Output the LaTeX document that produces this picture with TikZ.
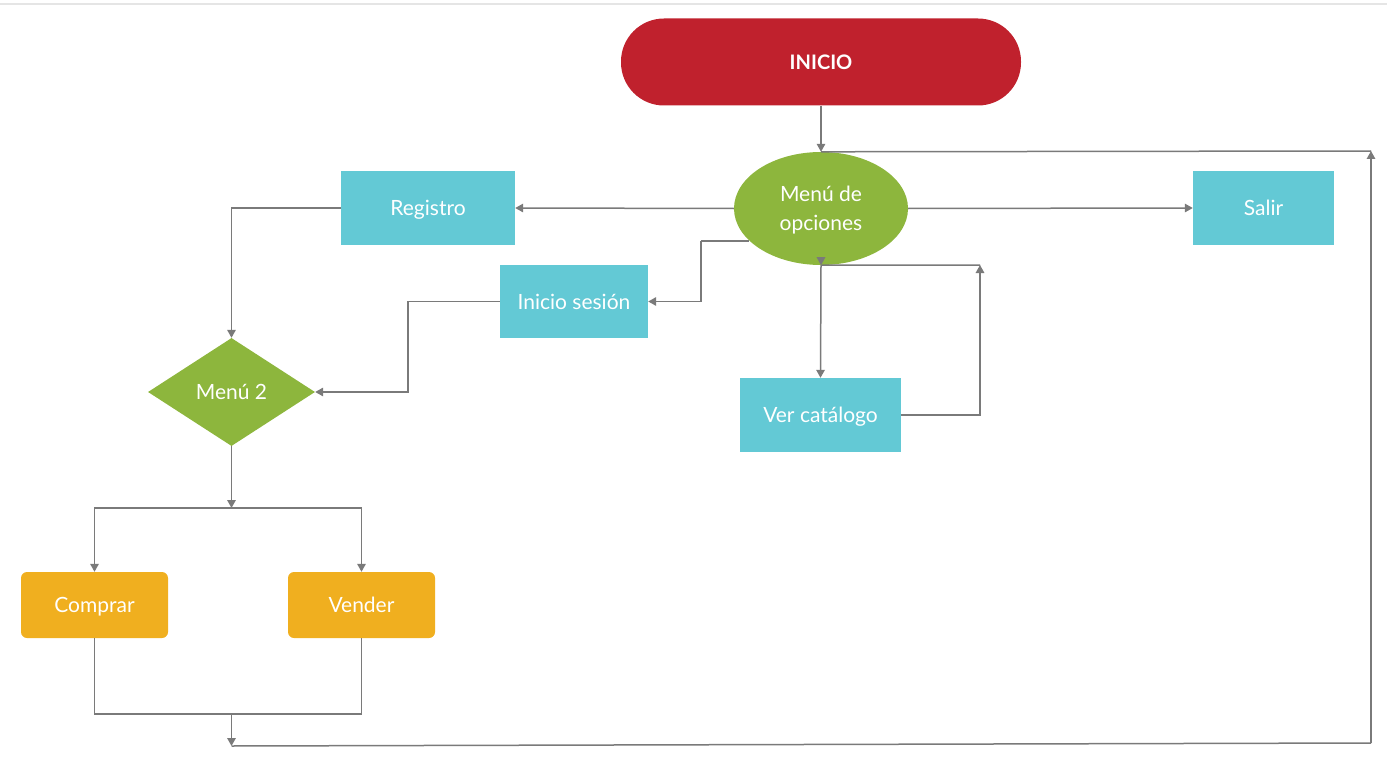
\documentclass[tikz,border=0pt]{standalone}
\usepackage{fontspec}
\setmainfont{Lato}
\usetikzlibrary{shapes.geometric,arrows.meta}
\definecolor{cred}{HTML}{C0212D}
\definecolor{cgreen}{HTML}{8DB63D}
\definecolor{ccyan}{HTML}{63C9D5}
\definecolor{corange}{HTML}{F0AF1F}
\definecolor{cline}{HTML}{7A7A7A}
\begin{document}
\begin{tikzpicture}[x=1pt,y=-1pt,
  every node/.style={font=\fontsize{21}{29}\selectfont, text=white, inner sep=0pt, align=center, text depth=0pt},
  startbox/.style={rectangle, fill=cred, minimum width=400pt, minimum height=87pt, rounded corners=43pt, font=\fontsize{20}{24}\selectfont\bfseries},
  menuell/.style={ellipse, fill=cgreen, minimum width=174pt, minimum height=113pt},
  menudia/.style={diamond, fill=cgreen, minimum width=167pt, minimum height=108pt},
  cybox/.style={rectangle, fill=ccyan},
  orbox/.style={rectangle, fill=corange, rounded corners=6pt, minimum width=147pt, minimum height=66pt},
  conn/.style={draw=cline, line width=1.5pt},
  arr/.style={conn, -{Triangle[length=8pt,width=8.5pt]}}
]
\useasboundingbox (0,0) rectangle (1387,781);
\draw[draw=black!10, line width=1.2pt] (0,4) -- (1387,4);

\node[startbox] (inicio) at (821,62) {INICIO};
\node[menuell] (menu) at (821,208.5) {Menú de\\opciones};
\node[cybox, minimum width=174pt, minimum height=74pt] (reg) at (428,208) {Registro};
\node[cybox, minimum width=141pt, minimum height=74pt] (salir) at (1263.5,208) {Salir};
\node[cybox, minimum width=148pt, minimum height=73pt] (ses) at (574,301.5) {Inicio sesión};
\node[cybox, minimum width=161pt, minimum height=74pt] (cat) at (820.5,415) {Ver catálogo};
\node[menudia] (m2) at (231.5,392) {Menú 2};
\node[orbox] (comp) at (94.5,605) {Comprar};
\node[orbox] (vend) at (361.5,605) {Vender};

\coordinate (cS) at (749,241);
\coordinate (cA) at (701,241);
\coordinate (cB) at (980,265);
\coordinate (cC) at (231.5,508);
\coordinate (cD) at (231.5,714);
\coordinate (cE) at (231.5,746);
\coordinate (cF) at (1371,743);
\coordinate (cG) at (1371,151);

\draw[arr] (inicio.south) -- (menu.north);
\draw[arr] (menu.west) -- (reg.east);
\draw[arr] (menu.east) -- (salir.west);
\draw[conn] (cS) -- (cA);
\draw[arr] (cA) |- (ses.east);
\draw[arr] (menu.south) -- (cat.north);
\draw[arr] (cat.east) -| (cB);
\draw[conn] (cB) -- (menu.south);
\draw[arr] ([yshift=6pt]menu.south) -- (menu.south);
\draw[arr] (reg.west) -| (m2.north);
\draw[arr] (ses.west) -- ++(-92,0) |- (m2.east);
\draw[arr] (m2.south) -- (cC);
\draw[arr] (cC) -| (comp.north);
\draw[arr] (cC) -| (vend.north);
\draw[conn] (comp.south) |- (cD) -| (vend.south);
\draw[arr] (cD) -- (cE);
\draw[conn] (cE) -- (cF);
\draw[arr] (cF) -- (cG);
\draw[conn] (cG) -- (menu.north);
\end{tikzpicture}
\end{document}
